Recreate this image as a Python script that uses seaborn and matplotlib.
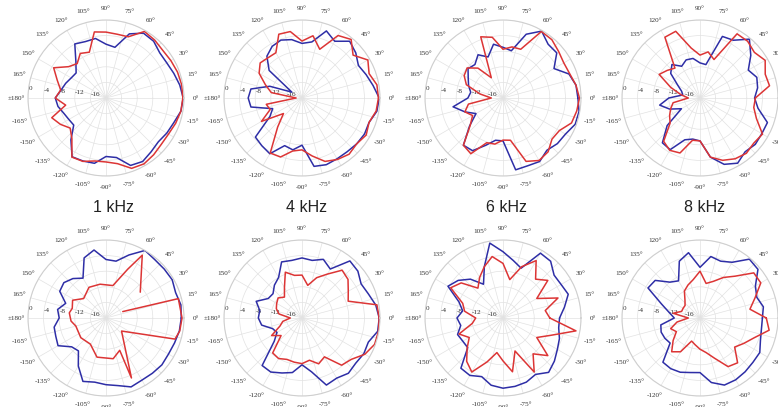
import numpy as np
import matplotlib
matplotlib.use('Agg')
import matplotlib.pyplot as plt
import seaborn as sns

sns.set_style('white')
plt.rcParams['font.family'] = ['Liberation Serif', 'DejaVu Serif']

# angles in degrees (measurement every 10 deg)
ang = list(range(0, 360, 10))

# top row
red_1k_top = [-0.3, -0.3, -0.5, -0.8, -1.0, -0.6, -0.3, -3.3, -3.4, -3.1, -2.8, -7.5, -6.8, -8.5, -7.5, -4.5, -6.7, -8.2,
              -7.0, -9.5, -5.2, -6.5, -8.0, -6.4, -2.5, -2.7, -3.6, -3.6, -2.9, -0.8, -0.5, -1.0, -1.5, -1.5, -1.0, -0.5]
blue_1k_top = [-0.2, -0.8, -1.5, -2.0, -2.0, -1.0, -0.8, -2.5, -6.8, -6.2, -4.5, -4.6, -4.0, -8.0, -10.0, -9.7, -9.0, -8.3,
               -7.0, -7.5, -8.5, -9.0, -9.2, -6.0, -2.6, -2.8, -3.0, -5.0, -4.5, -1.6, -1.2, -2.0, -2.5, -2.0, -1.5, -0.5]

red_4k_top = [-0.4, -0.5, -1.7, -0.5, -2.9, -0.4, -1.5, -6.7, -3.8, -5.4, -2.7, -2.6, -6.6, -6.5, -6.0, -7.3, -10.0, -12.0,
              -18.5, -10.7, -11.3, -8.0, -13.8, -10.3, -3.7, -3.9, -6.2, -6.7, -4.9, -2.7, -1.8, -1.2, -1.7, -1.0, -1.7, -0.7]
blue_4k_top = [-0.2, -1.5, -2.5, -3.3, -2.0, -1.0, -3.2, -1.7, -5.4, -6.0, -4.8, -4.2, -4.7, -6.0, -9.0, -17.0, -11.2, -6.7,
               -6.2, -6.7, -12.0, -10.5, -4.4, -4.0, -3.5, -7.0, -6.5, -7.9, -2.2, -1.8, -2.0, -2.0, -1.7, -1.5, -1.7, -0.5]

red_6k_top = [-0.4, -1.0, -1.8, -2.0, -1.4, -0.5, -0.3, -6.7, -6.7, -7.5, -4.2, -3.3, -14.0, -10.0, -8.0, -8.5, -10.0, -14.0,
              -17.0, -11.0, -9.6, -11.0, -9.0, -4.2, -3.5, -7.8, -8.0, -9.2, -9.0, -2.7, -1.5, -2.0, -3.6, -3.3, -1.3, -0.8]
blue_6k_top = [-0.8, -1.0, -2.0, -4.9, -2.0, -2.0, -0.2, -2.6, -7.7, -7.0, -6.0, -8.8, -7.2, -8.8, -8.3, -9.7, -10.6, -11.6,
               -11.0, -7.0, -9.6, -12.0, -8.8, -4.2, -4.4, -7.1, -9.0, -9.0, -1.3, -1.5, -1.2, -2.5, -1.8, -1.5, -0.3, -0.2]

red_8k_top = [-5.8, -1.9, -2.2, -0.7, -1.8, -1.0, -1.0, -9.5, -8.0, -9.0, -7.0, -1.8, -2.0, -10.0, -9.0, -7.9, -12.0, -15.0,
              -17.0, -13.0, -12.0, -11.0, -10.0, -5.5, -4.5, -5.0, -9.0, -9.0, -4.6, -3.0, -2.0, -1.5, -2.0, -1.5, -4.6, -6.0]
blue_8k_top = [-6.0, -5.0, -4.5, -5.7, -3.0, -0.3, -2.9, -3.2, -11.3, -11.0, -9.7, -9.6, -10.6, -8.8, -10.2, -13.4, -15.0, -15.5,
               -12.0, -9.5, -11.7, -14.5, -9.0, -5.0, -4.7, -8.6, -9.3, -9.0, -4.6, -1.9, -0.7, -2.0, -1.5, -1.7, -1.6, -4.9]

# bottom row
blue_1k_bot = [-0.7, -0.5, -1.0, -0.4, -0.5, -0.5, 0.0, -2.8, -5.2, -5.0, -2.3, -3.6, -8.2, -6.8, -5.9, -6.3, -9.0, -7.4,
               -8.0, -6.5, -6.3, -5.8, -8.5, -9.0, -5.8, -2.7, -3.3, -2.9, -2.4, -1.2, -1.6, -1.5, -1.3, -1.5, -1.3, -0.9]
# this red trace is an open path, so it has its own angles
red_1k_bot_ang = [37, 60, 66, 78, 100, 119, 139, 152, 164, 172, 185, 195, 218, 239, 257, 280, 293, 293, 320, 343, 350, 360, 375, 381]
red_1k_bot = [-9.0, -1.4, -6.3, -11.5, -11.2, -11.0, -12.4, -10.3, -11.0, -10.5, -11.0, -12.0, -11.8, -12.2, -9.7, -9.4,
              -11.0, -3.3, -14.8, -1.5, -0.8, -0.5, -0.8, -15.4]

red_4k_bot = [-0.2, -0.5, -7.4, -6.3, -4.6, -4.0, -7.0, -9.0, -11.5, -9.0, -8.9, -7.5, -11.0, -13.0, -12.0, -12.5, -13.0, -14.0,
              -17.0, -15.0, -14.0, -11.0, -13.0, -8.3, -8.0, -8.7, -8.5, -8.3, -9.0, -7.5, -8.5, -4.2, -3.5, -1.4, -0.2, -0.1]
blue_4k_bot = [-0.2, -0.8, -1.9, -2.5, -1.3, -0.9, -5.5, -4.0, -5.0, -4.6, -5.0, -4.7, -8.0, -9.0, -10.3, -10.0, -7.5, -9.0,
               -8.8, -9.5, -12.0, -12.6, -10.7, -4.1, -4.0, -5.0, -5.8, -8.0, -6.0, -1.7, -2.2, -1.5, -2.0, -1.7, -1.9, -0.3]

red_6k_bot = [-8.0, -9.0, -5.0, -10.0, -5.0, -7.0, -3.0, -6.0, -10.0, -6.0, -4.0, -6.0, -8.0, -10.0, -6.0, -4.5, -9.0, -10.0,
              -13.0, -12.0, -8.0, -10.0, -8.0, -5.5, -4.0, -8.0, -11.0, -9.0, -6.0, -11.0, -4.0, -8.0, -5.0, -10.0, -7.0, -1.0]
blue_6k_bot = [-5.5, -4.0, -2.2, -2.8, -2.9, -1.0, -0.8, -6.4, -5.0, -3.0, -0.5, -6.0, -10.0, -7.0, -5.0, -3.7, -8.0, -9.5,
               -8.2, -9.0, -7.6, -8.1, -8.2, -3.2, -3.0, -4.0, -2.5, -2.0, -2.2, -2.5, -3.3, -1.8, -2.8, -3.9, -4.6, -5.5]

red_8k_bot = [-3.0, -7.0, -5.0, -2.0, -2.0, -6.0, -8.0, -10.0, -11.0, -8.0, -10.0, -11.0, -12.0, -14.0, -15.0, -15.0, -15.0, -13.0,
              -17.0, -14.0, -12.0, -13.0, -11.0, -8.7, -10.0, -13.7, -13.0, -12.0, -11.0, -9.0, -5.6, -5.0, -8.4, -7.0, -5.2, -2.0]
blue_8k_bot = [-4.0, -3.5, -4.5, -3.6, -0.6, -0.3, -3.5, -4.5, -4.0, -7.0, -3.0, -4.5, -9.0, -8.0, -5.0, -4.6, -9.5, -12.0,
               -13.4, -9.8, -9.4, -9.6, -10.0, -5.2, -5.0, -5.2, -5.8, -6.0, -3.2, -1.7, -1.7, -2.0, -2.3, -2.3, -3.5, -4.0]

titles = ['1 kHz', '4 kHz', '6 kHz', '8 kHz']
r_ticks = [-16, -12, -8, -4, 0]

RED = '#dc3535'
BLUE = '#2e2ea6'

W, H = 778, 407
R = 78
col_x = [106, 302, 503, 700]
row_y = [98, 318]

theta_labels = []
for d in range(0, 360, 15):
    if d == 180:
        theta_labels.append('±180°')
    elif d > 180:
        theta_labels.append(f'-{360 - d}°')
    else:
        theta_labels.append(f'{d}°')


def closed(a, v):
    # repeat the first point so the loop is closed
    return np.deg2rad(list(a) + [a[0] + 360]), list(v) + [v[0]]


panels = [
    [(ang, red_1k_top, ang, blue_1k_top), (ang, red_4k_top, ang, blue_4k_top),
     (ang, red_6k_top, ang, blue_6k_top), (ang, red_8k_top, ang, blue_8k_top)],
    [(red_1k_bot_ang, red_1k_bot, ang, blue_1k_bot), (ang, red_4k_bot, ang, blue_4k_bot),
     (ang, red_6k_bot, ang, blue_6k_bot), (ang, red_8k_bot, ang, blue_8k_bot)],
]

fig = plt.figure(figsize=(W / 100, H / 100), dpi=100)

for i, row in enumerate(panels):
    for j, (ra, rv, ba, bv) in enumerate(row):
        cx, cy = col_x[j], row_y[i]
        ax = fig.add_axes([(cx - R) / W, (H - cy - R) / H, 2 * R / W, 2 * R / H], projection='polar')

        bt, br = closed(ba, bv)
        sns.lineplot(x=bt, y=br, ax=ax, sort=False, estimator=None, color=BLUE, linewidth=1.1)
        if ra is red_1k_bot_ang:
            rt, rr = np.deg2rad(ra), rv
        else:
            rt, rr = closed(ra, rv)
        sns.lineplot(x=rt, y=rr, ax=ax, sort=False, estimator=None, color=RED, linewidth=1.1)

        ax.set_ylim(-20, 0)
        ax.set_yticks(r_ticks)
        ax.set_yticklabels([str(t) for t in r_ticks], fontsize=5.2, color='#333333')
        ax.set_rlabel_position(175)
        ax.set_thetagrids(range(0, 360, 15), theta_labels, fontsize=5.1, color='#333333')
        ax.tick_params(axis='x', pad=-2)
        ax.grid(True, color='#e2e2e2', linewidth=0.5)
        ax.spines['polar'].set_color('#cfcfcf')
        ax.spines['polar'].set_linewidth(0.8)
        ax.set_xlabel('')
        ax.set_ylabel('')

title_x = [113, 306, 506, 704]
for t, x in zip(titles, title_x):
    fig.text(x / W, 1 - 207 / H, t, ha='center', va='center', fontsize=11.5,
             family=['Liberation Sans', 'DejaVu Sans'], color='#222222')

fig.savefig('out.png', dpi=100)
